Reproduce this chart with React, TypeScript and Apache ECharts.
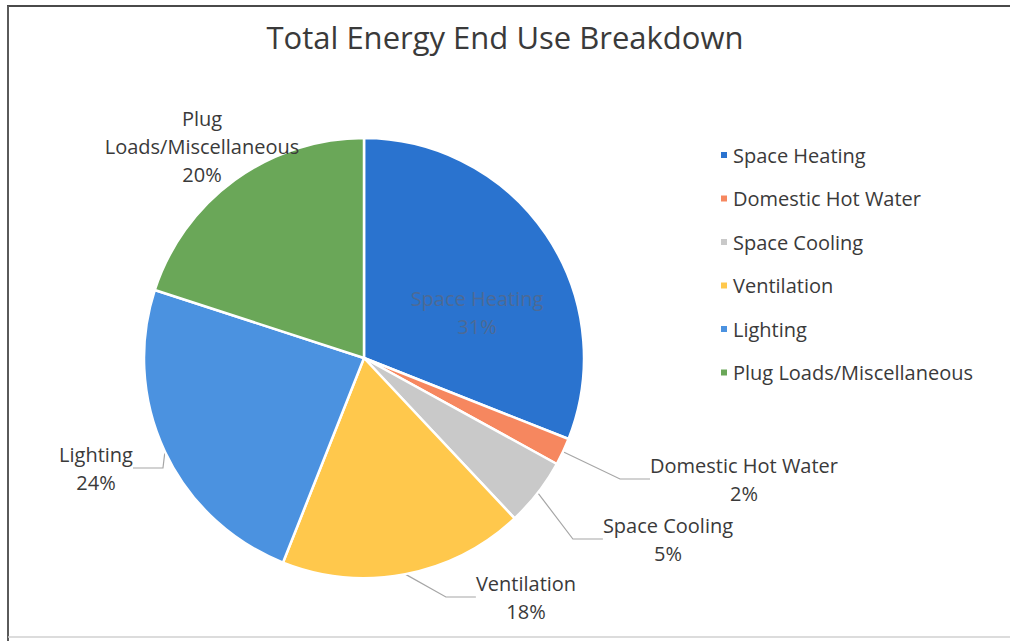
import React, { useEffect, useRef } from "react";
import * as echarts from "echarts";

// End-use categories and their share of total energy (%)
const categories = [
  "Space Heating",
  "Domestic Hot Water",
  "Space Cooling",
  "Ventilation",
  "Lighting",
  "Plug Loads/Miscellaneous",
];
const shares = [31, 2, 5, 18, 24, 20];
const colors = ["#2a73cf", "#f6875f", "#c9c9c9", "#ffc84c", "#4b92e0", "#6aa758"];

// Where each data label block sits (centre of the text block)
const labelPos: Record<string, [number, number]> = {
  "Space Heating": [477, 312],
  "Domestic Hot Water": [744, 479],
  "Space Cooling": [668, 539],
  Ventilation: [526, 597],
  Lighting: [96, 468],
  "Plug Loads/Miscellaneous": [202, 146],
};

const FONT = "'Open Sans', 'Noto Sans', sans-serif";
const TEXT = "#3a3a3a";

export default function App() {
  const ref = useRef<HTMLDivElement>(null);

  useEffect(() => {
    if (!ref.current) return;
    const chart = echarts.init(ref.current, undefined, { renderer: "svg" });

    const data = categories.map((name, i) => {
      const item: any = { name, value: shares[i], itemStyle: { color: colors[i] } };
      if (name === "Space Heating") {
        item.label = { color: "#4d6a95" };
        item.labelLine = { show: false };
      }
      if (name === "Plug Loads/Miscellaneous") {
        item.label = { formatter: "Plug\nLoads/Miscellaneous\n{d}%" };
        item.labelLine = { show: false };
      }
      return item;
    });

    chart.setOption({
      animation: false,
      backgroundColor: "#ffffff",
      title: {
        text: "Total Energy End Use Breakdown",
        left: "center",
        top: 16,
        textStyle: { fontFamily: FONT, fontSize: 31, fontWeight: "normal", color: TEXT },
      },
      legend: {
        orient: "vertical",
        left: 714,
        top: 139,
        icon: "rect",
        itemWidth: 8,
        itemHeight: 8,
        itemGap: 21.5,
        data: categories,
        textStyle: { fontFamily: FONT, fontSize: 20, color: TEXT, lineHeight: 22 },
      },
      graphic: [
        { type: "line", shape: { x1: 7, y1: 6, x2: 1010, y2: 6 }, style: { stroke: "#4a4a4a", lineWidth: 2 } },
        { type: "line", shape: { x1: 8, y1: 6, x2: 8, y2: 641 }, style: { stroke: "#5a5a5a", lineWidth: 2 } },
        { type: "line", shape: { x1: 8, y1: 637, x2: 1010, y2: 637 }, style: { stroke: "#d0d0d0", lineWidth: 1.5 } },
      ],
      series: [
        {
          type: "pie",
          center: [364, 358],
          radius: 220,
          startAngle: 90,
          clockwise: true,
          avoidLabelOverlap: false,
          itemStyle: { borderColor: "#ffffff", borderWidth: 2.5 },
          label: {
            show: true,
            formatter: "{b}\n{d}%",
            fontFamily: FONT,
            fontSize: 20,
            lineHeight: 28,
            color: TEXT,
            align: "center",
          },
          labelLine: {
            show: true,
            lineStyle: { color: "#a6a6a6", width: 1.2 },
          },
          labelLayout: (params: any) => {
            const p = labelPos[categories[params.dataIndex]];
            return { x: p[0], y: p[1], align: "center", verticalAlign: "middle" };
          },
          data,
        },
      ],
    });

    return () => chart.dispose();
  }, []);

  return (
    <div
      ref={ref}
      style={{ position: "absolute", left: 0, top: 0, width: 1010, height: 641 }}
    />
  );
}
